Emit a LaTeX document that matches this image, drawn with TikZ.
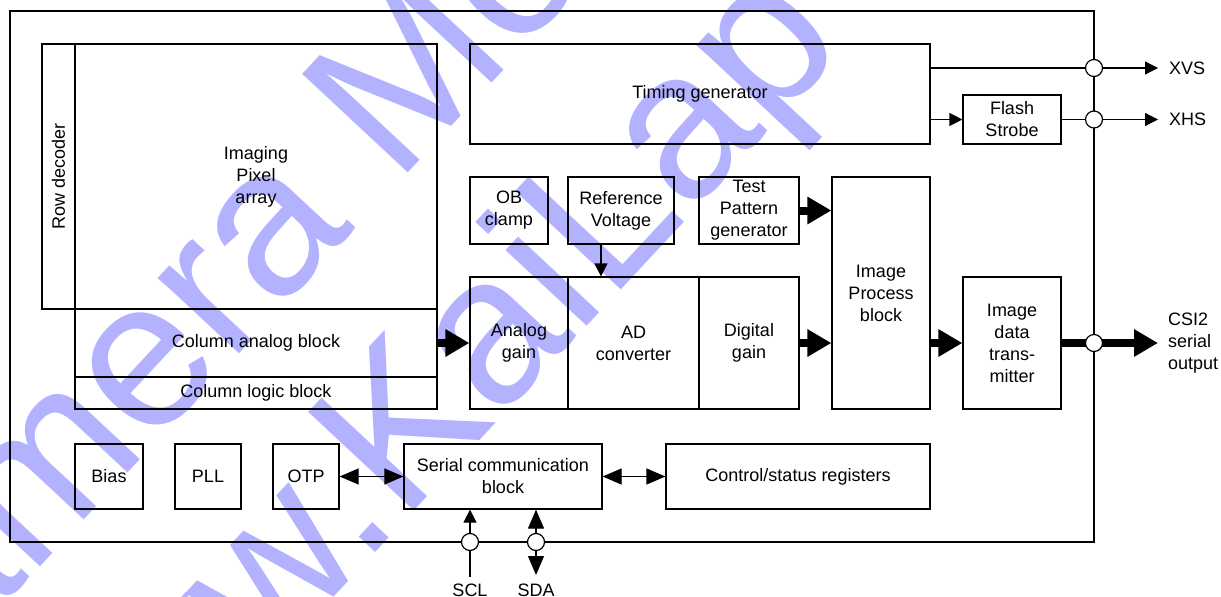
\documentclass[tikz,border=0pt]{standalone}
\usepackage{fontspec}
\setmainfont{Liberation Sans}
\usetikzlibrary{arrows.meta}
\definecolor{wm}{RGB}{178,178,255}
\begin{document}
\begin{tikzpicture}[x=1pt,y=-1pt,
  blk/.style={draw, line width=1.2pt, inner sep=0pt, align=center, font=\fontsize{18}{22}\selectfont},
  wire/.style={line width=1.2pt},
  tarrow/.style={wire, -{Triangle[length=13pt,width=13pt]}},
  darrow/.style={wire, {Triangle[length=19pt,width=16pt]}-{Triangle[length=19pt,width=16pt]}},
  fat/.style={line width=8pt, -{Triangle[length=24pt,width=26pt]}},
  pin/.style={circle, draw, fill=white, line width=1.2pt, minimum size=17pt, inner sep=0pt},
  lbl/.style={font=\fontsize{18}{22}\selectfont, inner sep=0pt, align=left},
  wmtext/.style={text=wm, font=\fontsize{210}{210}\selectfont, inner sep=0pt}]
\useasboundingbox (0,0) rectangle (1221,597);
% watermark
\begin{scope}
\clip (0,0) rectangle (1221,597);
\node[wmtext, rotate=47, anchor=base west] (wm1) at (-153,774) {Camera Module};
\node[wmtext, rotate=47, anchor=base west] (wm2) at (60,891) {www.KaiLap};
\end{scope}
% chip outline
\node[draw, line width=1.2pt, minimum width=1084pt, minimum height=531pt, inner sep=0pt] (chip) at (552,276.5) {};
% pixel array area
\node[blk, minimum width=33pt, minimum height=265pt] (rd) at (58.5,176.5) {};
\node[blk, rotate=90, draw=none] (rdt) at (rd.center) {Row decoder};
\node[blk, minimum width=362pt, minimum height=265pt] (pa) at (256,176.5) {Imaging\\Pixel\\array};
\node[blk, minimum width=362pt, minimum height=68pt] (ca) at (256,343) {Column analog block};
\node[blk, minimum width=362pt, minimum height=32pt] (cl) at (256,393) {Column logic block};
% timing
\node[blk, minimum width=460pt, minimum height=100pt] (tg) at (700,94) {Timing generator};
\node[blk, minimum width=98pt, minimum height=49pt] (fs) at (1012,119.5) {Flash\\Strobe};
% middle row
\node[blk, minimum width=78pt, minimum height=67pt] (ob) at (509,210.5) {OB\\clamp};
\node[blk, minimum width=106pt, minimum height=67pt] (rv) at (621,210.5) {Reference\\Voltage};
\node[blk, minimum width=100pt, minimum height=67pt] (tp) at (749,210.5) {Test\\Pattern\\generator};
\node[blk, minimum width=98pt, minimum height=232pt] (ip) at (881,293) {Image\\Process\\block};
\node[blk, minimum width=98pt, minimum height=132pt] (ag) at (519,343) {Analog\\gain};
\node[blk, minimum width=131pt, minimum height=132pt] (ad) at (633.5,343) {AD\\converter};
\node[blk, minimum width=100pt, minimum height=132pt] (dg) at (749,343) {Digital\\gain};
\node[blk, minimum width=98pt, minimum height=132pt] (idt) at (1012,343) {Image\\data\\trans-\\mitter};
% bottom row
\node[blk, minimum width=68pt, minimum height=65pt] (bias) at (109,476.5) {Bias};
\node[blk, minimum width=66pt, minimum height=65pt] (pll) at (208,476.5) {PLL};
\node[blk, minimum width=66pt, minimum height=65pt] (otp) at (306,476.5) {OTP};
\node[blk, minimum width=198pt, minimum height=65pt] (sc) at (503,476.5) {Serial communication\\block};
\node[blk, minimum width=264pt, minimum height=65pt] (cs) at (798,476.5) {Control/status registers};
% pins and ends
\coordinate (p1) at (1094,68);
\coordinate (p2) at (1094,119.5);
\coordinate (p3) at (1094,343);
\coordinate (p4) at (470,542);
\coordinate (p5) at (536,542);
\coordinate (xvsend) at (1158,68);
\coordinate (xhsend) at (1158,119.5);
\coordinate (csiend) at (1158,343);
\coordinate (sclend) at (470,577);
\coordinate (sdaend) at (536,575);
\coordinate (rvx) at (601,0);
% connectors
\draw[tarrow] (tg.east |- p1) -- (xvsend);
\draw[tarrow] (tg.east |- fs.west) -- (fs.west);
\draw[tarrow] (fs.east) -- (xhsend);
\draw[tarrow] (rvx |- rv.south) -- (rvx |- ad.north);
\draw[fat] (tp.east) -- (ip.west |- tp.east);
\draw[fat] (ca.east) -- (ag.west);
\draw[fat] (dg.east) -- (ip.west |- dg.east);
\draw[fat] (ip.east |- idt.west) -- (idt.west);
\draw[fat] (idt.east) -- (csiend);
\draw[darrow] (otp.east) -- (sc.west);
\draw[darrow] (sc.east) -- (cs.west);
\draw[tarrow] (sclend) -- (sclend |- sc.south);
\draw[darrow] (sdaend) -- (sdaend |- sc.south);
% pins
\node[pin] (c1) at (p1) {};
\node[pin] (c2) at (p2) {};
\node[pin] (c3) at (p3) {};
\node[pin] (c4) at (p4) {};
\node[pin] (c5) at (p5) {};
% labels
\node[lbl, anchor=west] (lxvs) at (1169,68) {XVS};
\node[lbl, anchor=west] (lxhs) at (1169,119.5) {XHS};
\node[lbl, anchor=west] (lcsi) at (1168,343) {CSI2\\serial\\output};
\node[lbl] (lscl) at (470,590) {SCL};
\node[lbl] (lsda) at (536,590) {SDA};
\end{tikzpicture}
\end{document}
